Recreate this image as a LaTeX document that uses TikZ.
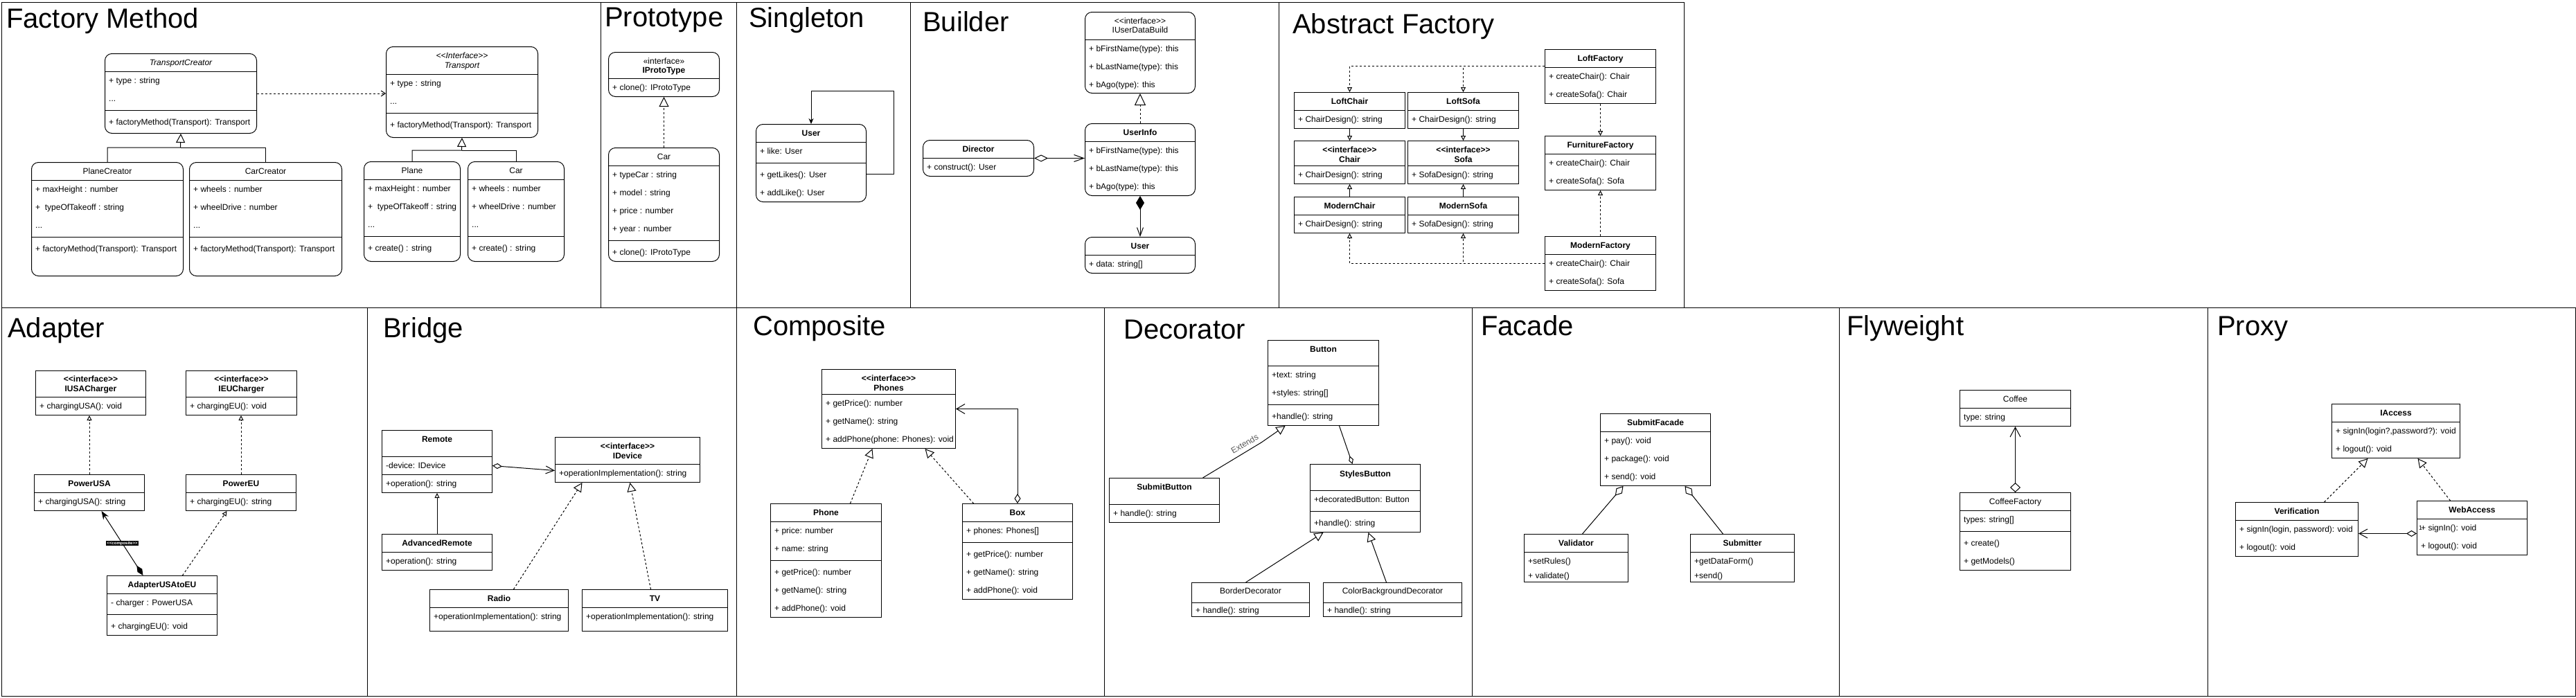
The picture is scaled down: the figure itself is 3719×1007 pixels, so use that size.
\documentclass[tikz,border=0pt]{standalone}
\usepackage{fontspec}
\setmainfont{Liberation Sans}
\usetikzlibrary{arrows.meta}

\newcommand{\ster}[1]{<\kern0pt<#1>\kern0pt>}
% compartment line, member row, centred header (dy from the top of the box)
\newcommand{\clssep}[2]{\draw[line width=1pt] ([yshift=-#2pt]#1.north west) -- ([yshift=-#2pt]#1.north east);}
\newcommand{\clsrow}[3]{\node[mem] (#1-r#2) at ([xshift=6pt,yshift=-#2pt]#1.north west) {#3};}
\newcommand{\clshead}[3]{\node[hd] (#1-h#2) at ([yshift=-#2pt]#1.north) {#3};}

\tikzset{
  cls/.style={draw, line width=1pt, anchor=north west, inner sep=0pt},
  rcls/.style={cls, rounded corners=10pt},
  mem/.style={anchor=west, inner sep=0pt, text height=8.5pt, text depth=0pt,
    font=\fontsize{12}{14}\selectfont},
  hd/.style={mem, anchor=center},
  title/.style={anchor=base west, inner sep=0pt, font=\fontsize{40}{48}\selectfont},
  panel/.style={line width=1pt},
  conn/.style={line width=1pt},
  gen/.style={conn, -{Triangle[open,length=13pt,width=13pt]}},
  gens/.style={conn, -{Triangle[open,length=7pt,width=7pt]}},
  real/.style={gen, dashed},
  reals/.style={gens, dashed},
  depend/.style={conn, dashed, -{Straight Barb[length=6pt,width=8pt]}},
  agg/.style={conn, {Diamond[open,length=15pt,width=9pt]}-{Straight Barb[length=12pt,width=13pt]}},
  aggend/.style={conn, -{Diamond[open,length=18pt,width=11pt]}},
  compo/.style={conn, {Diamond[length=20pt,width=12pt]}-{Straight Barb[length=12pt,width=9pt]}},
  selfarr/.style={conn, -{Stealth[length=8pt,width=7pt]}},
  stlbl/.style={fill=black, text=white, inner sep=1pt, font=\fontsize{6}{7}\selectfont\bfseries},
  lbl/.style={inner sep=0pt, text=black!65, font=\fontsize{12}{14}\selectfont},
  mult/.style={anchor=west, inner sep=0pt, font=\fontsize{9}{10}\selectfont}
}

\begin{document}
\begin{tikzpicture}[x=1pt, y=-1pt]
  \useasboundingbox (0,0) rectangle (3719,1007);
  % Panels
  \draw[panel] (2,3) rectangle (867,444);
  \draw[panel] (867,3) rectangle (1063,444);
  \draw[panel] (1063,3) rectangle (1314,444);
  \draw[panel] (1314,3) rectangle (1846,444);
  \draw[panel] (1846,3) rectangle (2431,444);
  \draw[panel] (2,444) rectangle (530,1005);
  \draw[panel] (530,444) rectangle (1063,1005);
  \draw[panel] (1063,444) rectangle (1594,1005);
  \draw[panel] (1594,444) rectangle (2125,1005);
  \draw[panel] (2125,444) rectangle (2655,1005);
  \draw[panel] (2655,444) rectangle (3187,1005);
  \draw[panel] (3187,444) rectangle (3718,1005);

  % Factory Method
  \node[title] (tFactory) at (9,40) {Factory Method};
  \node[rcls, minimum width=219, minimum height=115] (TransportCreator) at (151,77) {};
  \clshead{TransportCreator}{13}{\itshape TransportCreator}
  \clssep{TransportCreator}{26}
  \clsrow{TransportCreator}{39}{+ type : string}
  \clsrow{TransportCreator}{65}{...}
  \clssep{TransportCreator}{82}
  \clsrow{TransportCreator}{99}{+ factoryMethod(Transport): Transport}

  \node[rcls, minimum width=219, minimum height=131] (Transport) at (557,67) {};
  \clshead{Transport}{13}{\itshape\ster{Interface}}
  \clshead{Transport}{27}{\itshape Transport}
  \clssep{Transport}{40}
  \clsrow{Transport}{53}{+ type : string}
  \clsrow{Transport}{79}{...}
  \clssep{Transport}{96}
  \clsrow{Transport}{113}{+ factoryMethod(Transport): Transport}

  \node[rcls, minimum width=219, minimum height=164] (PlaneCreator) at (45,234) {};
  \clshead{PlaneCreator}{13}{PlaneCreator}
  \clssep{PlaneCreator}{26}
  \clsrow{PlaneCreator}{39}{+ maxHeight : number}
  \clsrow{PlaneCreator}{65}{+~ typeOfTakeoff : string}
  \clsrow{PlaneCreator}{91}{...}
  \clssep{PlaneCreator}{108}
  \clsrow{PlaneCreator}{125}{+ factoryMethod(Transport): Transport}

  \node[rcls, minimum width=220, minimum height=164] (CarCreator) at (273,234) {};
  \clshead{CarCreator}{13}{CarCreator}
  \clssep{CarCreator}{26}
  \clsrow{CarCreator}{39}{+ wheels : number}
  \clsrow{CarCreator}{65}{+ wheelDrive : number}
  \clsrow{CarCreator}{91}{...}
  \clssep{CarCreator}{108}
  \clsrow{CarCreator}{125}{+ factoryMethod(Transport): Transport}

  \node[rcls, minimum width=139, minimum height=144] (Plane) at (525,233) {};
  \clshead{Plane}{13}{Plane}
  \clssep{Plane}{26}
  \clsrow{Plane}{39}{+ maxHeight : number}
  \clsrow{Plane}{65}{+~ typeOfTakeoff : string}
  \clsrow{Plane}{91}{...}
  \clssep{Plane}{108}
  \clsrow{Plane}{125}{+ create() : string}

  \node[rcls, minimum width=139, minimum height=144] (Car) at (675,233) {};
  \clshead{Car}{13}{Car}
  \clssep{Car}{26}
  \clsrow{Car}{39}{+ wheels : number}
  \clsrow{Car}{65}{+ wheelDrive : number}
  \clsrow{Car}{91}{...}
  \clssep{Car}{108}
  \clsrow{Car}{125}{+ create() : string}

  \coordinate (fmA) at (260.5,213);
  \coordinate (fmB) at (666.5,217);
  \draw[gen] (PlaneCreator.north) |- (fmA) -- (TransportCreator.south);
  \draw[conn] (CarCreator.north) |- (fmA);
  \draw[gen] (Plane.north) |- (fmB) -- (Transport.south);
  \draw[conn] (Car.north) |- (fmB);
  \draw[depend] (TransportCreator.east) -- (TransportCreator.east -| Transport.west);

  % Prototype
  \node[title] (tProto) at (873,38) {Prototype};
  \node[rcls, minimum width=160, minimum height=64] (IProtoType) at (878,75) {};
  \clshead{IProtoType}{13}{«interface»}
  \clshead{IProtoType}{26}{\bfseries IProtoType}
  \clssep{IProtoType}{38}
  \clsrow{IProtoType}{51}{+ clone(): IProtoType}

  \node[rcls, minimum width=160, minimum height=164] (ProtoCar) at (878,213) {};
  \clshead{ProtoCar}{13}{Car}
  \clssep{ProtoCar}{26}
  \clsrow{ProtoCar}{39}{+ typeCar : string}
  \clsrow{ProtoCar}{65}{+ model : string}
  \clsrow{ProtoCar}{91}{+ price : number}
  \clsrow{ProtoCar}{117}{+ year : number}
  \clssep{ProtoCar}{134}
  \clsrow{ProtoCar}{151}{+ clone(): IProtoType}
  \draw[real, -{Triangle[open,length=14pt,width=14pt]}] (ProtoCar.north) -- (IProtoType.south);

  % Singleton
  \node[title] (tSingle) at (1081,39) {Singleton};
  \node[rcls, minimum width=159, minimum height=112] (SingUser) at (1091,179) {};
  \clshead{SingUser}{13}{\bfseries User}
  \clssep{SingUser}{26}
  \clsrow{SingUser}{39}{+ like: User}
  \clssep{SingUser}{56}
  \clsrow{SingUser}{73}{+ getLikes(): User}
  \clsrow{SingUser}{99}{+ addLike(): User}
  \coordinate (sgl) at (1290,131);
  \draw[selfarr] ([yshift=-72pt]SingUser.north east) -| (sgl) -| (SingUser.north);

  % Builder
  \node[title] (tBuild) at (1332,45) {Builder};
  \node[rcls, minimum width=159, minimum height=117] (IUserDataBuild) at (1566,17) {};
  \clshead{IUserDataBuild}{13}{\ster{interface}}
  \clshead{IUserDataBuild}{26}{IUserDataBuild}
  \clssep{IUserDataBuild}{40}
  \clsrow{IUserDataBuild}{53}{+ bFirstName(type): this}
  \clsrow{IUserDataBuild}{79}{+ bLastName(type): this}
  \clsrow{IUserDataBuild}{105}{+ bAgo(type): this}

  \node[rcls, minimum width=159, minimum height=104] (UserInfo) at (1566,178) {};
  \clshead{UserInfo}{13}{\bfseries UserInfo}
  \clssep{UserInfo}{26}
  \clsrow{UserInfo}{39}{+ bFirstName(type): this}
  \clsrow{UserInfo}{65}{+ bLastName(type): this}
  \clsrow{UserInfo}{91}{+ bAgo(type): this}

  \node[rcls, minimum width=160, minimum height=52] (Director) at (1332,202) {};
  \clshead{Director}{13}{\bfseries Director}
  \clssep{Director}{26}
  \clsrow{Director}{39}{+ construct(): User}

  \node[rcls, minimum width=159, minimum height=52] (BuildUser) at (1566,342) {};
  \clshead{BuildUser}{13}{\bfseries User}
  \clssep{BuildUser}{26}
  \clsrow{BuildUser}{39}{+ data: string[]}

  \draw[real, -{Triangle[open,length=17pt,width=16pt]}] (UserInfo.north) -- (IUserDataBuild.south);
  \draw[conn, {Diamond[open,length=20pt,width=10pt]}-{Straight Barb[length=14pt,width=10pt]}]
    (Director.east) -- (Director.east -| UserInfo.west);
  \draw[compo] (UserInfo.south) -- (BuildUser.north);

  % Abstract Factory
  \node[title] (tAbstract) at (1866,48) {Abstract Factory};
  \node[cls, minimum width=160, minimum height=52] (LoftChair) at (1868,133) {};
  \clshead{LoftChair}{13}{\bfseries LoftChair}
  \clssep{LoftChair}{26}
  \clsrow{LoftChair}{39}{+ ChairDesign(): string}
  \node[cls, minimum width=160, minimum height=52] (LoftSofa) at (2032,133) {};
  \clshead{LoftSofa}{13}{\bfseries LoftSofa}
  \clssep{LoftSofa}{26}
  \clsrow{LoftSofa}{39}{+ ChairDesign(): string}

  \node[cls, minimum width=160, minimum height=62] (Chair) at (1868,203) {};
  \clshead{Chair}{13}{\bfseries\ster{interface}}
  \clshead{Chair}{27}{\bfseries Chair}
  \clssep{Chair}{36}
  \clsrow{Chair}{49}{+ ChairDesign(): string}
  \node[cls, minimum width=160, minimum height=62] (Sofa) at (2032,203) {};
  \clshead{Sofa}{13}{\bfseries\ster{interface}}
  \clshead{Sofa}{27}{\bfseries Sofa}
  \clssep{Sofa}{36}
  \clsrow{Sofa}{49}{+ SofaDesign(): string}

  \node[cls, minimum width=160, minimum height=52] (ModernChair) at (1868,284) {};
  \clshead{ModernChair}{13}{\bfseries ModernChair}
  \clssep{ModernChair}{26}
  \clsrow{ModernChair}{39}{+ ChairDesign(): string}
  \node[cls, minimum width=160, minimum height=52] (ModernSofa) at (2032,284) {};
  \clshead{ModernSofa}{13}{\bfseries ModernSofa}
  \clssep{ModernSofa}{26}
  \clsrow{ModernSofa}{39}{+ SofaDesign(): string}

  \node[cls, minimum width=160, minimum height=78] (LoftFactory) at (2230,71) {};
  \clshead{LoftFactory}{13}{\bfseries LoftFactory}
  \clssep{LoftFactory}{26}
  \clsrow{LoftFactory}{39}{+ createChair(): Chair}
  \clsrow{LoftFactory}{65}{+ createSofa(): Chair}
  \node[cls, minimum width=160, minimum height=78] (FurnitureFactory) at (2230,196) {};
  \clshead{FurnitureFactory}{13}{\bfseries FurnitureFactory}
  \clssep{FurnitureFactory}{26}
  \clsrow{FurnitureFactory}{39}{+ createChair(): Chair}
  \clsrow{FurnitureFactory}{65}{+ createSofa(): Sofa}
  \node[cls, minimum width=160, minimum height=78] (ModernFactory) at (2230,341) {};
  \clshead{ModernFactory}{13}{\bfseries ModernFactory}
  \clssep{ModernFactory}{26}
  \clsrow{ModernFactory}{39}{+ createChair(): Chair}
  \clsrow{ModernFactory}{65}{+ createSofa(): Sofa}

  \draw[reals] ([yshift=15pt]LoftFactory.west) -| (LoftChair.north);
  \draw[reals] ([yshift=15pt]LoftFactory.west) -| (LoftSofa.north);
  \draw[gens] (LoftChair.south) -- (Chair.north);
  \draw[gens] (LoftSofa.south) -- (Sofa.north);
  \draw[gens] (ModernChair.north) -- (Chair.south);
  \draw[gens] (ModernSofa.north) -- (Sofa.south);
  \draw[reals] (LoftFactory.south) -- (FurnitureFactory.north);
  \draw[reals] (ModernFactory.north) -- (FurnitureFactory.south);
  \draw[reals] (ModernFactory.west) -| (ModernChair.south);
  \draw[reals] (ModernFactory.west) -| (ModernSofa.south);

  % Adapter
  \node[title] (tAdapter) at (11,487) {Adapter};
  \node[cls, minimum width=159, minimum height=64] (IUSACharger) at (51,535) {};
  \clshead{IUSACharger}{12}{\bfseries\ster{interface}}
  \clshead{IUSACharger}{26}{\bfseries IUSACharger}
  \clssep{IUSACharger}{38}
  \clsrow{IUSACharger}{51}{+ chargingUSA(): void}
  \node[cls, minimum width=160, minimum height=64] (IEUCharger) at (268,535) {};
  \clshead{IEUCharger}{12}{\bfseries\ster{interface}}
  \clshead{IEUCharger}{26}{\bfseries IEUCharger}
  \clssep{IEUCharger}{38}
  \clsrow{IEUCharger}{51}{+ chargingEU(): void}

  \node[cls, minimum width=159, minimum height=52] (PowerUSA) at (49,685) {};
  \clshead{PowerUSA}{13}{\bfseries PowerUSA}
  \clssep{PowerUSA}{26}
  \clsrow{PowerUSA}{39}{+ chargingUSA(): string}
  \node[cls, minimum width=159, minimum height=52] (PowerEU) at (268,685) {};
  \clshead{PowerEU}{13}{\bfseries PowerEU}
  \clssep{PowerEU}{26}
  \clsrow{PowerEU}{39}{+ chargingEU(): string}

  \node[cls, minimum width=159, minimum height=86] (AdapterUSAtoEU) at (154,831) {};
  \clshead{AdapterUSAtoEU}{13}{\bfseries AdapterUSAtoEU}
  \clssep{AdapterUSAtoEU}{26}
  \clsrow{AdapterUSAtoEU}{39}{- charger : PowerUSA}
  \clssep{AdapterUSAtoEU}{56}
  \clsrow{AdapterUSAtoEU}{73}{+ chargingEU(): void}

  \draw[reals] (PowerUSA.north) -- (PowerUSA.north |- IUSACharger.south);
  \draw[reals] (PowerEU.north) -- (PowerEU.north |- IEUCharger.south);
  \draw[conn, {Diamond[length=17pt,width=8pt]}-{Stealth[length=12pt,width=9pt]}]
    ([xshift=-27.5pt]AdapterUSAtoEU.north) -- ([xshift=17.5pt]PowerUSA.south)
    node[midway, stlbl] (compLbl) {\ster{composite}};
  \draw[reals] ([xshift=29.5pt]AdapterUSAtoEU.north) -- ([xshift=-20.5pt]PowerEU.south);

  % Bridge
  \node[title] (tBridge) at (553,487) {Bridge};
  \node[cls, minimum width=159, minimum height=90] (Remote) at (551,621) {};
  \clshead{Remote}{13}{\bfseries Remote}
  \clssep{Remote}{38}
  \clsrow{Remote}{51}{-device: IDevice}
  \clssep{Remote}{64}
  \clsrow{Remote}{77}{+operation(): string}
  \node[cls, minimum width=159, minimum height=52] (AdvancedRemote) at (551,771) {};
  \clshead{AdvancedRemote}{13}{\bfseries AdvancedRemote}
  \clssep{AdvancedRemote}{26}
  \clsrow{AdvancedRemote}{39}{+operation(): string}

  \node[cls, minimum width=209, minimum height=65] (IDevice) at (801,631) {};
  \clshead{IDevice}{13}{\bfseries\ster{interface}}
  \clshead{IDevice}{27}{\bfseries IDevice}
  \clssep{IDevice}{39}
  \clsrow{IDevice}{52}{+operationImplementation(): string}

  \node[cls, minimum width=200, minimum height=60] (Radio) at (620,851) {};
  \clshead{Radio}{13}{\bfseries Radio}
  \clssep{Radio}{26}
  \clsrow{Radio}{39}{+operationImplementation(): string}
  \node[cls, minimum width=210, minimum height=60] (TV) at (840,851) {};
  \clshead{TV}{13}{\bfseries TV}
  \clssep{TV}{26}
  \clsrow{TV}{39}{+operationImplementation(): string}

  \draw[gens] (AdvancedRemote.north) -- (Remote.south);
  \draw[conn, {Diamond[open,length=14pt,width=8pt]}-{Straight Barb[length=12pt,width=11pt]}]
    ([yshift=-6pt]Remote.east) -- ([yshift=-15.5pt]IDevice.west);
  \draw[real] ([xshift=21pt]Radio.north) -- ([xshift=-65.5pt]IDevice.south);
  \draw[real] ([xshift=-6pt]TV.north) -- ([xshift=3.5pt]IDevice.south);

  % Composite
  \node[title] (tComposite) at (1087,484) {Composite};
  \node[cls, minimum width=193, minimum height=114] (Phones) at (1186,533) {};
  \clshead{Phones}{13}{\bfseries\ster{interface}}
  \clshead{Phones}{27}{\bfseries Phones}
  \clssep{Phones}{36}
  \clsrow{Phones}{49}{+ getPrice(): number}
  \clsrow{Phones}{75}{+ getName(): string}
  \clsrow{Phones}{101}{+ addPhone(phone: Phones): void}

  \node[cls, minimum width=160, minimum height=164] (Phone) at (1112,727) {};
  \clshead{Phone}{13}{\bfseries Phone}
  \clssep{Phone}{26}
  \clsrow{Phone}{39}{+ price: number}
  \clsrow{Phone}{65}{+ name: string}
  \clssep{Phone}{82}
  \clsrow{Phone}{99}{+ getPrice(): number}
  \clsrow{Phone}{125}{+ getName(): string}
  \clsrow{Phone}{151}{+ addPhone(): void}

  \node[cls, minimum width=159, minimum height=138] (Box) at (1389,727) {};
  \clshead{Box}{13}{\bfseries Box}
  \clssep{Box}{26}
  \clsrow{Box}{39}{+ phones: Phones[]}
  \clssep{Box}{56}
  \clsrow{Box}{73}{+ getPrice(): number}
  \clsrow{Box}{99}{+ getName(): string}
  \clsrow{Box}{125}{+ addPhone(): void}

  \draw[real] ([xshift=35pt]Phone.north) -- ([xshift=-23.5pt]Phones.south);
  \draw[real] ([xshift=-63.5pt]Box.north) -- ([xshift=52.5pt]Phones.south);
  \draw[conn, {Diamond[open,length=14pt,width=9pt]}-{Straight Barb[length=12pt,width=14pt]}]
    (Box.north) |- (Phones.east);

  % Decorator
  \node[title] (tDecorator) at (1622,489) {Decorator};
  \node[cls, minimum width=160, minimum height=123] (Button) at (1830,491) {};
  \clshead{Button}{13}{\bfseries Button}
  \clssep{Button}{37}
  \clsrow{Button}{50}{+text: string}
  \clsrow{Button}{76}{+styles: string[]}
  \clssep{Button}{93}
  \clsrow{Button}{110}{+handle(): string}

  \node[cls, minimum width=159, minimum height=64] (SubmitButton) at (1601,690) {};
  \clshead{SubmitButton}{13}{\bfseries SubmitButton}
  \clssep{SubmitButton}{38}
  \clsrow{SubmitButton}{51}{+ handle(): string}

  \node[cls, minimum width=159, minimum height=98] (StylesButton) at (1891,670) {};
  \clshead{StylesButton}{14}{\bfseries StylesButton}
  \clssep{StylesButton}{38}
  \clsrow{StylesButton}{51}{+decoratedButton: Button}
  \clssep{StylesButton}{68}
  \clsrow{StylesButton}{85}{+handle(): string}

  \node[cls, minimum width=170, minimum height=49] (BorderDecorator) at (1720,841) {};
  \clshead{BorderDecorator}{12}{BorderDecorator}
  \clssep{BorderDecorator}{29}
  \clsrow{BorderDecorator}{40}{+ handle(): string}
  \node[cls, minimum width=200, minimum height=49] (ColorBackgroundDecorator) at (1910,841) {};
  \clshead{ColorBackgroundDecorator}{12}{ColorBackgroundDecorator}
  \clssep{ColorBackgroundDecorator}{29}
  \clsrow{ColorBackgroundDecorator}{40}{+ handle(): string}

  \coordinate (extwp) at (1821,639);
  \draw[gen] ([xshift=55.5pt]SubmitButton.north) -- (extwp) -- ([xshift=-55pt]Button.south);
  \node[lbl, rotate=30] (extLbl) at (1797,641) {Extends};
  \draw[conn, -{Diamond[open,length=12pt,width=7pt]}] ([xshift=23pt]Button.south) -- ([xshift=-18.5pt]StylesButton.north);
  \draw[gen] ([xshift=-7pt]BorderDecorator.north) -- ([xshift=-60.5pt]StylesButton.south);
  \draw[gen] ([xshift=-9pt]ColorBackgroundDecorator.north) -- ([xshift=4.5pt]StylesButton.south);

  % Facade
  \node[title] (tFacade) at (2138,484) {Facade};
  \node[cls, minimum width=159, minimum height=104] (SubmitFacade) at (2310,597) {};
  \clshead{SubmitFacade}{13}{\bfseries SubmitFacade}
  \clssep{SubmitFacade}{26}
  \clsrow{SubmitFacade}{39}{+ pay(): void}
  \clsrow{SubmitFacade}{65}{+ package(): void}
  \clsrow{SubmitFacade}{91}{+ send(): void}

  \node[cls, minimum width=150, minimum height=69] (Validator) at (2200,771) {};
  \clshead{Validator}{13}{\bfseries Validator}
  \clssep{Validator}{26}
  \clsrow{Validator}{39}{+setRules()}
  \clsrow{Validator}{60}{+ validate()}
  \node[cls, minimum width=150, minimum height=69] (Submitter) at (2440,771) {};
  \clshead{Submitter}{13}{\bfseries Submitter}
  \clssep{Submitter}{26}
  \clsrow{Submitter}{39}{+getDataForm()}
  \clsrow{Submitter}{60}{+send()}

  \draw[aggend] ([xshift=9pt]Validator.north) -- ([xshift=-46.5pt]SubmitFacade.south);
  \draw[aggend] ([xshift=-28pt]Submitter.north) -- ([xshift=42.5pt]SubmitFacade.south);

  % Flyweight
  \node[title] (tFlyweight) at (2666,484) {Flyweight};
  \node[cls, minimum width=160, minimum height=52] (Coffee) at (2829,563) {};
  \clshead{Coffee}{13}{Coffee}
  \clssep{Coffee}{26}
  \clsrow{Coffee}{39}{type: string}
  \node[cls, minimum width=160, minimum height=112] (CoffeeFactory) at (2829,711) {};
  \clshead{CoffeeFactory}{13}{CoffeeFactory}
  \clssep{CoffeeFactory}{26}
  \clsrow{CoffeeFactory}{39}{types: string[]}
  \clssep{CoffeeFactory}{56}
  \clsrow{CoffeeFactory}{73}{+ create()}
  \clsrow{CoffeeFactory}{99}{+ getModels()}
  \draw[conn, {Diamond[open,length=14pt,width=15pt]}-{Straight Barb[length=14pt,width=15pt]}]
    (CoffeeFactory.north) -- (Coffee.south);

  % Proxy
  \node[title] (tProxy) at (3201,484) {Proxy};
  \node[cls, minimum width=185, minimum height=78] (IAccess) at (3366,583) {};
  \clshead{IAccess}{13}{\bfseries IAccess}
  \clssep{IAccess}{26}
  \clsrow{IAccess}{39}{+ signIn(login?,password?): void}
  \clsrow{IAccess}{65}{+ logout(): void}
  \node[cls, minimum width=177, minimum height=78] (Verification) at (3227,725) {};
  \clshead{Verification}{13}{\bfseries Verification}
  \clssep{Verification}{26}
  \clsrow{Verification}{39}{+ signIn(login, password): void}
  \clsrow{Verification}{65}{+ logout(): void}
  \node[cls, minimum width=159, minimum height=78] (WebAccess) at (3489,723) {};
  \clshead{WebAccess}{13}{\bfseries WebAccess}
  \clssep{WebAccess}{26}
  \clsrow{WebAccess}{39}{+ signIn(): void}
  \clsrow{WebAccess}{65}{+ logout(): void}
  \node[mult] (waOne) at ([xshift=3pt,yshift=-39pt]WebAccess.north west) {1};

  \draw[real] ([xshift=39.5pt]Verification.north) -- ([xshift=-40.5pt]IAccess.south);
  \draw[real] ([xshift=-31.5pt]WebAccess.north) -- ([xshift=31.5pt]IAccess.south);
  \draw[agg] ([yshift=-8pt]WebAccess.west) -- ([yshift=-8pt]WebAccess.west -| Verification.east);
\end{tikzpicture}
\end{document}
